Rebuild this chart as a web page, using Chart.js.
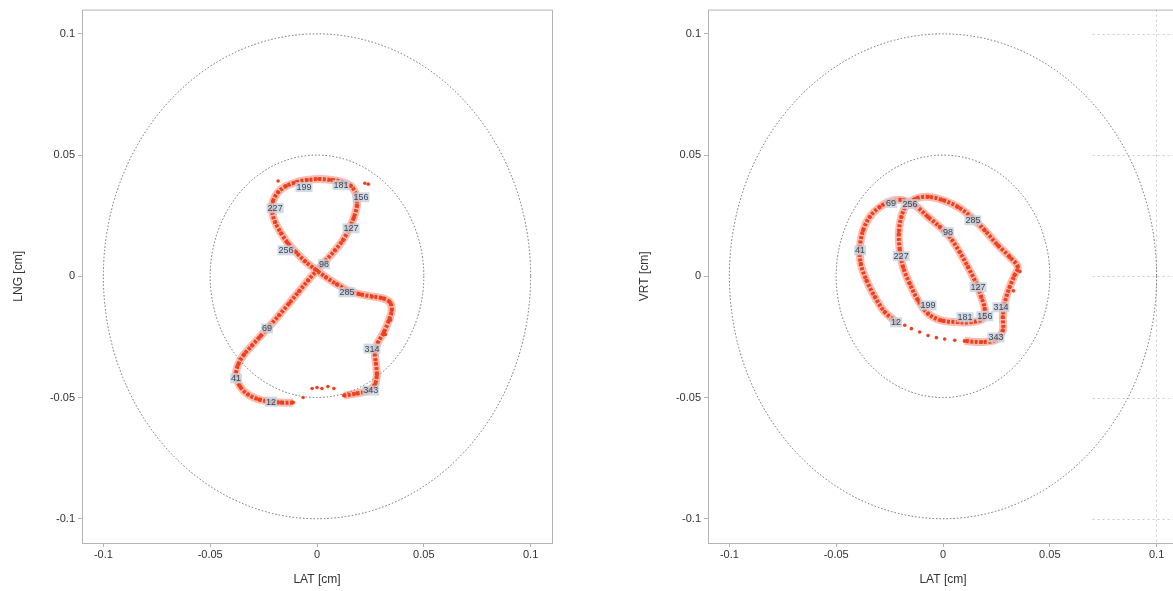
<!DOCTYPE html>
<html>
<head>
<meta charset="utf-8">
<script src="https://cdn.jsdelivr.net/npm/chart.js@4/dist/chart.umd.min.js"></script>
<style>
    html, body { margin: 0; padding: 0; background: #fff; overflow: hidden; width: 1173px; height: 591px; }
    canvas { position: absolute; top: 0; }
    #lng { left: 0; }
    #vrt { left: 626px; }
</style>
</head>
<body>
<canvas id="lng" width="600" height="591"></canvas>
<canvas id="vrt" width="600" height="591"></canvas>
<script>
"use strict";

// axis ticks (cm)
const tickValues = [-0.1, -0.05, 0, 0.05, 0.1];
const tickLabels = ["-0.1", "-0.05", "0", "0.05", "0.1"];
const ringRadii = [0.05, 0.1];

// LAT / LNG trajectory, [lat, lng] in cm
const lngBand = [
    [-0.0112, -0.0521], [-0.0168, -0.0521], [-0.0215, -0.0517], [-0.0271, -0.0508], [-0.0322, -0.0488],
    [-0.0360, -0.0455], [-0.0379, -0.0409], [-0.0369, -0.0364], [-0.0341, -0.0322], [-0.0304, -0.0285],
    [-0.0266, -0.0248], [-0.0224, -0.0207], [-0.0178, -0.0161], [-0.0131, -0.0112], [-0.0084, -0.0062],
    [-0.0042, -0.0017], [0, 0.0025], [0.0042, 0.0066], [0.0084, 0.0107], [0.0121, 0.0149],
    [0.0150, 0.0194], [0.0173, 0.0244], [0.0187, 0.0293], [0.0182, 0.0339], [0.0159, 0.0372],
    [0.0121, 0.0388], [0.0070, 0.0397], [0.0009, 0.0401], [-0.0047, 0.0397], [-0.0098, 0.0388],
    [-0.0145, 0.0372], [-0.0182, 0.0347], [-0.0206, 0.0310], [-0.0210, 0.0269], [-0.0196, 0.0223],
    [-0.0168, 0.0178], [-0.0136, 0.0136], [-0.0098, 0.0099], [-0.0056, 0.0062], [-0.0009, 0.0029],
    [0.0042, -0.0004], [0.0093, -0.0033], [0.0145, -0.0058], [0.0201, -0.0074], [0.0257, -0.0083],
    [0.0308, -0.0091], [0.0341, -0.0107], [0.0350, -0.0140], [0.0336, -0.0182], [0.0313, -0.0231],
    [0.0285, -0.0273], [0.0271, -0.0314], [0.0276, -0.0360], [0.0280, -0.0405], [0.0271, -0.0446],
    [0.0243, -0.0471], [0.0187, -0.0483], [0.0126, -0.0492]
];
const lngLoose = [
    [-0.0065, -0.0500], [-0.0023, -0.0463], [0, -0.0459], [0.0023, -0.0463], [0.0051, -0.0455],
    [0.0079, -0.0463], [0.0224, 0.0384], [0.0240, 0.0380], [-0.0182, 0.0393], [0.0345, -0.0180],
    [0.0320, -0.0240]
];
const lngTags = [
    [-0.0215, -0.0517, "12"], [-0.0379, -0.0421, "41"], [-0.0234, -0.0215, "69"], [0.0033, 0.0050, "98"],
    [0.0159, 0.0198, "127"], [0.0206, 0.0326, "156"], [0.0112, 0.0376, "181"], [-0.0061, 0.0368, "199"],
    [-0.0196, 0.0281, "227"], [-0.0145, 0.0107, "256"], [0.0140, -0.0066, "285"], [0.0257, -0.0298, "314"],
    [0.0252, -0.0471, "343"]
];

// LAT / VRT trajectory, [lat, vrt] in cm
const vrtBand = [
    [-0.0218, -0.0189], [-0.0273, -0.0147], [-0.0319, -0.0085], [-0.0358, -0.0017], [-0.0385, 0.0052],
    [-0.0389, 0.0121], [-0.0374, 0.0190], [-0.0343, 0.0245], [-0.0296, 0.0286], [-0.0241, 0.0311],
    [-0.0187, 0.0314], [-0.0132, 0.0293], [-0.0070, 0.0245], [-0.0015, 0.0204], [0.0031, 0.0163],
    [0.0078, 0.0100], [0.0117, 0.0038], [0.0156, -0.0030], [0.0179, -0.0085], [0.0195, -0.0134],
    [0.0187, -0.0175], [0.0132, -0.0189], [0.0070, -0.0189], [-0.0008, -0.0182], [-0.0070, -0.0154],
    [-0.0117, -0.0099], [-0.0156, -0.0030], [-0.0187, 0.0038], [-0.0202, 0.0107], [-0.0207, 0.0176],
    [-0.0195, 0.0245], [-0.0171, 0.0293], [-0.0125, 0.0321], [-0.0070, 0.0328], [0, 0.0314],
    [0.0070, 0.0286], [0.0132, 0.0245], [0.0195, 0.0190], [0.0257, 0.0128], [0.0312, 0.0080],
    [0.0350, 0.0038], [0.0335, 0.0004], [0.0312, -0.0044], [0.0288, -0.0113], [0.0280, -0.0168],
    [0.0280, -0.0223], [0.0249, -0.0262], [0.0179, -0.0271], [0.0101, -0.0267]
];
const vrtLoose = [
    [0.0055, -0.0264], [0.0008, -0.0259], [-0.0031, -0.0253], [-0.0070, -0.0244], [-0.0109, -0.0230],
    [-0.0148, -0.0216], [-0.0179, -0.0202], [0.0360, 0.0020], [0.0330, -0.0060]
];
const vrtTags = [
    [-0.0243, 0.0302, "69"], [-0.0154, 0.0298, "256"], [0.0140, 0.0231, "285"], [0.0023, 0.0182, "98"],
    [-0.0388, 0.0107, "41"], [-0.0196, 0.0083, "227"], [0.0164, -0.0045, "127"], [-0.0070, -0.0120, "199"],
    [-0.0220, -0.0190, "12"], [0.0103, -0.0169, "181"], [0.0196, -0.0165, "156"], [0.0271, -0.0128, "314"],
    [0.0248, -0.0252, "343"]
];

const RED = "#f0401c";
const FONT = "'Liberation Sans', Arial, sans-serif";

function toPoints(a) {
    return a.map(function(p) { return { x: p[0], y: p[1] }; });
}

// rings, frame, partial grid and index tags
const decor = {
    id: "decor",
    beforeDatasetsDraw(chart) {
        const ctx = chart.ctx, xs = chart.scales.x, ys = chart.scales.y, a = chart.chartArea;
        const o = chart.options.plugins.decor;
        ctx.save();
        if (o.gridFrom !== null) {
            ctx.strokeStyle = "#cccccc";
            ctx.lineWidth = 1;
            ctx.setLineDash([2, 3]);
            const gx = xs.getPixelForValue(o.gridFrom);
            tickValues.forEach(function(v) {
                const py = Math.round(ys.getPixelForValue(v)) + 0.5;
                ctx.beginPath(); ctx.moveTo(gx, py); ctx.lineTo(a.right, py); ctx.stroke();
            });
            const vx = Math.round(xs.getPixelForValue(0.1)) - 0.5;
            ctx.beginPath(); ctx.moveTo(vx, a.top); ctx.lineTo(vx, a.bottom); ctx.stroke();
        }
        const cx = xs.getPixelForValue(0), cy = ys.getPixelForValue(0);
        ctx.strokeStyle = "#6a6a6a";
        ctx.lineWidth = 1;
        ctx.setLineDash([1.5, 2]);
        ringRadii.forEach(function(r) {
            const rx = xs.getPixelForValue(r) - cx, ry = cy - ys.getPixelForValue(r);
            ctx.beginPath(); ctx.ellipse(cx, cy, rx, ry, 0, 0, Math.PI * 2); ctx.stroke();
        });
        ctx.setLineDash([]);
        ctx.strokeStyle = "#b4b4b4";
        ctx.strokeRect(a.left + 0.5, a.top + 0.5, a.right - a.left, a.bottom - a.top);
        ctx.restore();
    },
    afterDatasetsDraw(chart) {
        const ctx = chart.ctx, xs = chart.scales.x, ys = chart.scales.y;
        ctx.save();
        ctx.font = "9px " + FONT;
        ctx.textAlign = "center";
        ctx.textBaseline = "middle";
        chart.options.plugins.decor.tags.forEach(function(t) {
            const px = xs.getPixelForValue(t[0]), py = ys.getPixelForValue(t[1]);
            const w = ctx.measureText(t[2]).width + 2;
            ctx.fillStyle = "rgba(196,210,224,0.8)";
            ctx.fillRect(px - w / 2, py - 5, w, 10);
            ctx.fillStyle = "#3c4652";
            ctx.fillText(t[2], px, py + 0.5);
        });
        ctx.restore();
    }
};

function axis(title, horizontal) {
    return {
        type: "linear",
        min: -0.11,
        max: 0.11,
        afterBuildTicks: function(s) { s.ticks = tickValues.map(function(v) { return { value: v }; }); },
        afterFit: function(s) { if (horizontal) s.height = 48; else s.width = 82; },
        border: { display: false },
        grid: { drawOnChartArea: false, drawTicks: true, tickLength: 4, color: "#b4b4b4" },
        ticks: {
            padding: horizontal ? 1 : 3,
            color: "#333",
            font: { family: FONT, size: 11 },
            callback: function(v, i) { return tickLabels[i]; }
        },
        title: {
            display: true,
            text: title,
            color: "#333",
            font: { family: FONT, size: 12 },
            padding: horizontal ? { top: 0, bottom: 4 } : { top: 11, bottom: 0 }
        }
    };
}

function plot(id, yTitle, band, loose, tags, gridFrom) {
    return new Chart(document.getElementById(id), {
        type: "scatter",
        data: {
            datasets: [ {
                // faint spread around the band
                data: toPoints(band),
                showLine: true,
                tension: 0.35,
                borderColor: "rgba(240,64,28,0.35)",
                borderWidth: 8,
                pointRadius: 0
            }, {
                data: toPoints(band),
                showLine: true,
                tension: 0.35,
                borderColor: RED,
                borderWidth: 4,
                borderDash: [3, 1.5],
                pointRadius: 2,
                pointBackgroundColor: RED,
                pointBorderWidth: 0
            }, {
                data: toPoints(loose),
                pointRadius: 1.8,
                pointBackgroundColor: RED,
                pointBorderWidth: 0
            } ]
        },
        options: {
            responsive: false,
            animation: false,
            devicePixelRatio: 1,
            layout: { padding: { top: 8, right: 48, left: 0, bottom: 0 } },
            plugins: {
                legend: { display: false },
                tooltip: { enabled: false },
                decor: { tags: tags, gridFrom: gridFrom }
            },
            scales: {
                x: axis("LAT [cm]", true),
                y: axis(yTitle, false)
            }
        },
        plugins: [ decor ]
    });
}

plot("lng", "LNG [cm]", lngBand, lngLoose, lngTags, null);
plot("vrt", "VRT [cm]", vrtBand, vrtLoose, vrtTags, 0.07);
</script>
</body>
</html>
